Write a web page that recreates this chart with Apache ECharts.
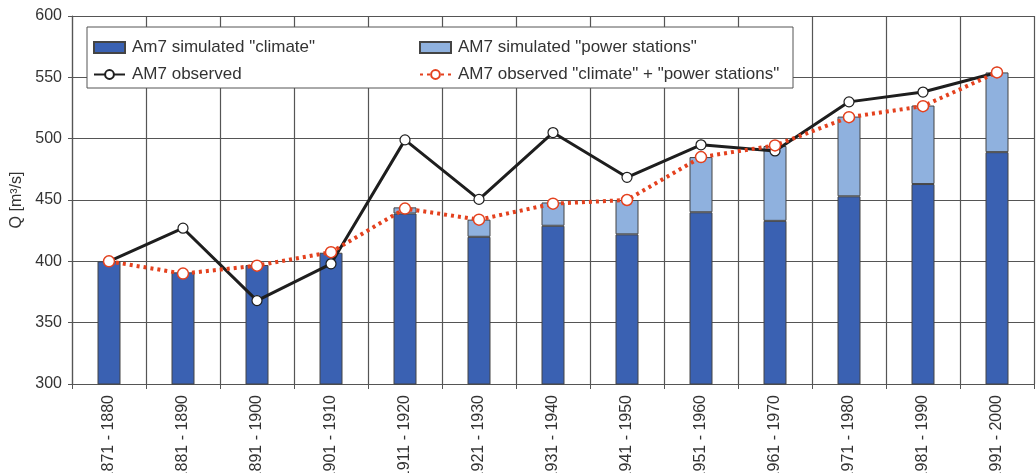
<!DOCTYPE html>
<html>
<head>
<meta charset="utf-8">
<script src="https://cdn.jsdelivr.net/npm/echarts@6/dist/echarts.min.js"></script>
<style>
html,body{margin:0;padding:0;background:#fff;}
#chart{width:1036px;height:473px;}
</style>
</head>
<body>
<div id="chart"></div>
<script>
const categories = ["1871 - 1880","1881 - 1890","1891 - 1900","1901 - 1910","1911 - 1920","1921 - 1930","1931 - 1940","1941 - 1950","1951 - 1960","1961 - 1970","1971 - 1980","1981 - 1990","1991 - 2000"];
const simClimate = [400, 391, 397, 407, 439, 420, 429, 422, 440, 433, 453, 463, 489];
const simPower = [null, null, null, null, 5, 14, 19, 28, 45, 61, 65, 64, 65];
const observed = [400, 427, 368, 398, 499, 450.5, 505, 468.5, 495, 490, 530, 538, 554];
const obsClimatePower = [400, 390, 396.5, 407.5, 443, 434, 447, 450, 485, 494.5, 517.5, 526.5, 554];
const yTicks = {min: 300, max: 600, interval: 50};

const FONT = "Liberation Sans";
const chart = echarts.init(document.getElementById('chart'));
const gridColor = '#555';
chart.setOption({
  animation: false,
  backgroundColor: '#fff',
  textStyle: {fontFamily: FONT},
  grid: {left: 72, right: 2, top: 16, bottom: 89, containLabel: false, outerBoundsMode: 'none'},
  graphic: [{
    type: 'rect', z: 3,
    shape: {x: 87, y: 27, width: 706, height: 61},
    style: {fill: '#fff', stroke: '#555', lineWidth: 1}
  }],
  legend: [{
    orient: 'vertical', left: 88, top: 34, itemGap: 10, z: 5,
    itemWidth: 31, itemHeight: 11,
    textStyle: {fontFamily: FONT, fontSize: 17, color: '#333', padding: [0,0,0,2]},
    data: [{name: 'Am7 simulated "climate"', icon: 'rect'}, {name: 'AM7 observed'}]
  },{
    orient: 'vertical', left: 414, top: 34, itemGap: 10, z: 5,
    itemWidth: 31, itemHeight: 11,
    textStyle: {fontFamily: FONT, fontSize: 17, color: '#333', padding: [0,0,0,2]},
    data: [{name: 'AM7 simulated "power stations"', icon: 'rect'}, {name: 'AM7 observed "climate" + "power stations"'}]
  }],
  xAxis: {
    type: 'category', data: categories, boundaryGap: true,
    axisLine: {lineStyle: {color: gridColor, width: 1.2}},
    axisTick: {show: true, length: 5, lineStyle: {color: gridColor}},
    splitLine: {show: true, lineStyle: {color: gridColor, width: 1.2}},
    axisLabel: {rotate: 90, fontSize: 16, color: '#333', margin: 11, interval: 0, fontFamily: FONT}
  },
  yAxis: {
    type: 'value', min: yTicks.min, max: yTicks.max, interval: yTicks.interval,
    name: 'Q [m³/s]', nameLocation: 'middle', nameRotate: 90, nameGap: 45,
    nameTextStyle: {fontSize: 16, color: '#333', fontFamily: FONT},
    axisLine: {show: true, lineStyle: {color: gridColor, width: 1.2}},
    axisTick: {show: true, length: 4, lineStyle: {color: gridColor}},
    splitLine: {show: true, lineStyle: {color: gridColor, width: 1.2}},
    axisLabel: {fontSize: 16, color: '#333', margin: 10, fontFamily: FONT}
  },
  series: [
    {name: 'Am7 simulated "climate"', type: 'bar', stack: 'q', data: simClimate, barWidth: 23,
     itemStyle: {color: '#3a61b2', borderColor: '#444', borderWidth: 1}},
    {name: 'AM7 simulated "power stations"', type: 'bar', stack: 'q', data: simPower, barWidth: 23,
     itemStyle: {color: '#8fb1de', borderColor: '#444', borderWidth: 1}},
    {name: 'AM7 observed', type: 'line', data: observed, z: 3,
     symbol: 'circle', symbolSize: 10,
     lineStyle: {color: '#1e1e1e', width: 3},
     itemStyle: {color: '#fff', borderColor: '#1e1e1e', borderWidth: 1.2}},
    {name: 'AM7 observed "climate" + "power stations"', type: 'line', data: obsClimatePower, z: 4,
     symbol: 'circle', symbolSize: 11,
     lineStyle: {color: '#e4411e', width: 4, type: [3, 4]},
     itemStyle: {color: '#fff', borderColor: '#e4411e', borderWidth: 1.5}}
  ]
});
</script>
</body>
</html>
